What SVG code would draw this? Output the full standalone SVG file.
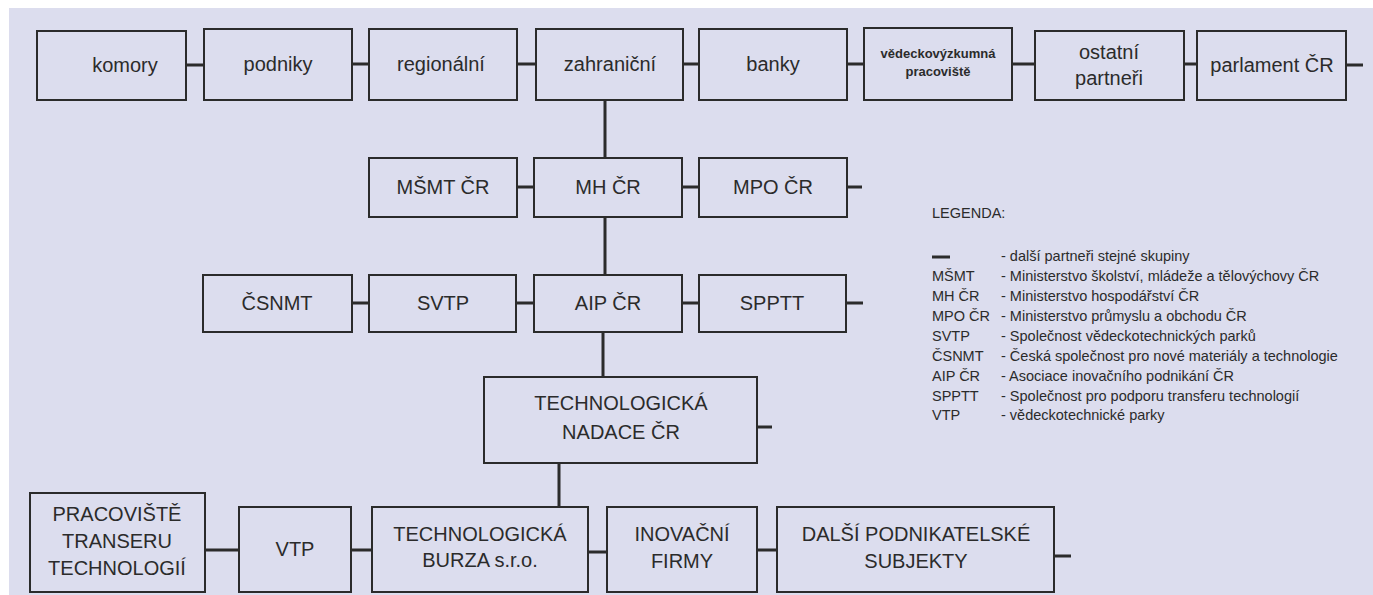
<svg xmlns="http://www.w3.org/2000/svg" width="1373" height="595" viewBox="0 0 1373 595">
<style>
.bx{fill:none;stroke:#2b2b2b;stroke-width:2}
.t{font-family:"Liberation Sans",Arial,sans-serif;font-size:20px;fill:#2b2b2b;text-anchor:middle}
.b{font-family:"Liberation Sans",Arial,sans-serif;font-size:13px;font-weight:bold;fill:#2b2b2b;text-anchor:middle}
.lg{font-family:"Liberation Sans",Arial,sans-serif;font-size:14.5px;fill:#2b2b2b}
.c{stroke:#2b2b2b;stroke-width:3;fill:none}
</style>
<rect x="0" y="0" width="1373" height="595" fill="#ffffff"/>
<rect x="9" y="8" width="1364" height="587" fill="#dcddee"/>

<g id="connectors">
<path class="c" d="M186 65H204M352 64H369M517 64H536M683 64H699M847 64H864M1012 64H1035M1184 64H1197M1346 65H1363"/>
<path class="c" d="M605 100V158M605 217V275M603 332V377M559 463V506"/>
<path class="c" d="M517 187H534M682 187H699M847 187H862"/>
<path class="c" d="M352 303H369M516 303H534M682 303H699M846 303H863"/>
<path class="c" d="M757 427H772"/>
<path class="c" d="M205 550H239M351 550H372M588 552H607M757 550H777M1054 556H1071"/>
</g>

<g id="n-komory"><rect class="bx" x="37" y="31" width="149" height="69"/><text class="t" x="125" y="72">komory</text></g>
<g id="n-podniky"><rect class="bx" x="204" y="29" width="148" height="71"/><text class="t" x="278" y="71">podniky</text></g>
<g id="n-regionalni"><rect class="bx" x="369" y="29" width="148" height="71"/><text class="t" x="441" y="71">regionální</text></g>
<g id="n-zahranicni"><rect class="bx" x="536" y="29" width="147" height="71"/><text class="t" x="610" y="71">zahraniční</text></g>
<g id="n-banky"><rect class="bx" x="699" y="29" width="148" height="71"/><text class="t" x="773" y="71">banky</text></g>
<g id="n-vedecko"><rect class="bx" x="864" y="28" width="148" height="72"/><text class="b" x="938" y="58">vědeckovýzkumná</text><text class="b" x="938" y="76">pracoviště</text></g>
<g id="n-ostatni"><rect class="bx" x="1035" y="31" width="149" height="69"/><text class="t" x="1109" y="59">ostatní</text><text class="t" x="1109" y="85">partneři</text></g>
<g id="n-parlament"><rect class="bx" x="1197" y="31" width="149" height="69"/><text class="t" x="1272" y="72">parlament ČR</text></g>

<g id="n-msmt"><rect class="bx" x="369" y="158" width="148" height="59"/><text class="t" x="443" y="194">MŠMT ČR</text></g>
<g id="n-mh"><rect class="bx" x="534" y="158" width="148" height="59"/><text class="t" x="608" y="194">MH ČR</text></g>
<g id="n-mpo"><rect class="bx" x="699" y="158" width="148" height="59"/><text class="t" x="773" y="194">MPO ČR</text></g>

<g id="n-csnmt"><rect class="bx" x="203" y="275" width="149" height="57"/><text class="t" x="277" y="310">ČSNMT</text></g>
<g id="n-svtp"><rect class="bx" x="369" y="275" width="147" height="57"/><text class="t" x="443" y="310">SVTP</text></g>
<g id="n-aip"><rect class="bx" x="534" y="275" width="148" height="57"/><text class="t" x="608" y="310">AIP ČR</text></g>
<g id="n-spptt"><rect class="bx" x="699" y="275" width="147" height="57"/><text class="t" x="772" y="310">SPPTT</text></g>

<g id="n-nadace"><rect class="bx" x="484" y="377" width="273" height="86"/><text class="t" x="621" y="410">TECHNOLOGICKÁ</text><text class="t" x="621" y="439">NADACE ČR</text></g>

<g id="n-pracoviste"><rect class="bx" x="30" y="493" width="175" height="99"/><text class="t" x="117" y="521">PRACOVIŠTĚ</text><text class="t" x="117" y="548">TRANSERU</text><text class="t" x="117" y="575">TECHNOLOGIÍ</text></g>
<g id="n-vtp"><rect class="bx" x="239" y="507" width="112" height="85"/><text class="t" x="295" y="556">VTP</text></g>
<g id="n-burza"><rect class="bx" x="372" y="507" width="216" height="85"/><text class="t" x="480" y="541">TECHNOLOGICKÁ</text><text class="t" x="480" y="567">BURZA s.r.o.</text></g>
<g id="n-inovacni"><rect class="bx" x="607" y="507" width="150" height="85"/><text class="t" x="682" y="541">INOVAČNÍ</text><text class="t" x="682" y="568">FIRMY</text></g>
<g id="n-dalsi"><rect class="bx" x="777" y="507" width="277" height="85"/><text class="t" x="916" y="541">DALŠÍ PODNIKATELSKÉ</text><text class="t" x="916" y="568">SUBJEKTY</text></g>

<g id="legend">
<text class="lg" x="932" y="218">LEGENDA:</text>
<line x1="932" y1="257" x2="950" y2="257" stroke="#2b2b2b" stroke-width="3"/>
<text class="lg" x="1001" y="261">- další partneři stejné skupiny</text>
<text class="lg" x="932" y="281">MŠMT</text><text class="lg" x="1001" y="281">- Ministerstvo školství, mládeže a tělovýchovy ČR</text>
<text class="lg" x="932" y="301">MH ČR</text><text class="lg" x="1001" y="301">- Ministerstvo hospodářství ČR</text>
<text class="lg" x="932" y="321">MPO ČR</text><text class="lg" x="1001" y="321">- Ministerstvo průmyslu a obchodu ČR</text>
<text class="lg" x="932" y="341">SVTP</text><text class="lg" x="1001" y="341">- Společnost vědeckotechnických parků</text>
<text class="lg" x="932" y="361">ČSNMT</text><text class="lg" x="1001" y="361">- Česká společnost pro nové materiály a technologie</text>
<text class="lg" x="932" y="381">AIP ČR</text><text class="lg" x="1001" y="381">- Asociace inovačního podnikání ČR</text>
<text class="lg" x="932" y="401">SPPTT</text><text class="lg" x="1001" y="401">- Společnost pro podporu transferu technologií</text>
<text class="lg" x="932" y="420">VTP</text><text class="lg" x="1001" y="420">- vědeckotechnické parky</text>
</g>
</svg>
